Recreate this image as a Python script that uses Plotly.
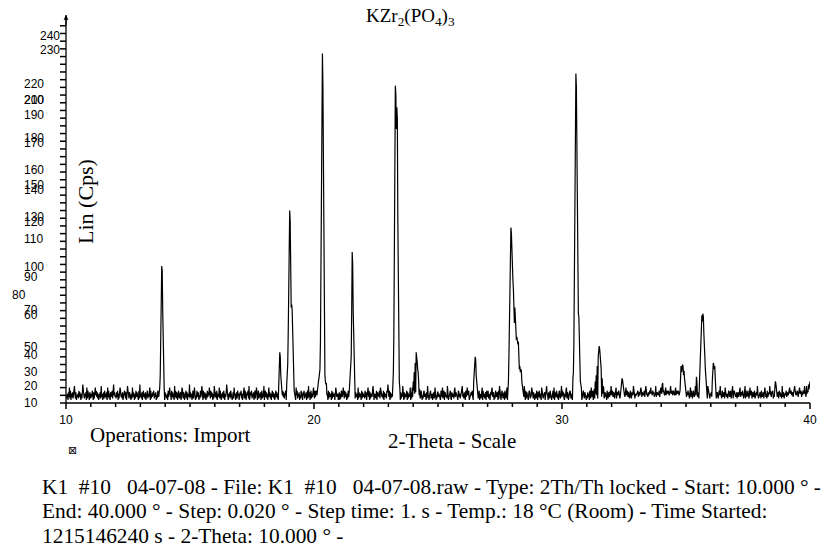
import numpy as np
import plotly.graph_objects as go

# ---------------- data ----------------
TITLE = "KZr<sub>2</sub>(PO<sub>4</sub>)<sub>3</sub>"
X_TITLE = "2-Theta - Scale"
Y_TITLE = "Lin (Cps)"
OPERATIONS = "Operations: Import"
CAPTION_LINES = [
    "K1\u00a0\u00a0#10\u00a0\u00a0\u00a004-07-08 - File: K1\u00a0\u00a0#10\u00a0\u00a0\u00a004-07-08.raw - Type: 2Th/Th locked - Start: 10.000 \u00b0 -",
    "End: 40.000 \u00b0 - Step: 0.020 \u00b0 - Step time: 1. s - Temp.: 18 \u00b0C (Room) - Time Started:",
    "1215146240 s - 2-Theta: 10.000 \u00b0 -",
]

START_2THETA = 10.0
# background counts per degree (10..39), 0.02 deg steps, grouped by 5
# (one hex character per step: a=10, b=11, c=12)
BACKGROUND_ROWS = [
    "45362 74a38 26473 58b63 72546 38475 2637c 85364 72a38 46275",
    "36485 2736a 58473 62547 3b462 57384 6372a 48362 75483 6c574",
    "53748 2637a 84637 25486 3725b 86374 5263a 47526 38475 6283c",
    "46372 58463 72548 3647a 28364 75836 47253 86473 52648 37562",
    "74536 2847a 65284 7362b 48376 25843 6725a 83762 54837 2645c",
    "37462 5837a 62538 47625 3847b 62834 75263 8475a 63847 5263b",
    "64738 2564a 38526 47385 2647c 85264 73856 2473a 56247 38562",
    "47583 6247a 38624 7583b 24758 36472 5836a 72583 64725 8364b",
    "25847 3625a 47362 58473 62584 73625 8473b 25847 36582 47365",
    "57386 24758 3642a 58364 72538 46275 83647 2583b 47258 3647a",
    "63847 2563a 47526 38475 6283b 45628 37456 28374 5628a 74562",
    "47263 8547a 63847 52638 47562 8374b 52837 4652a 37465 28374",
    "56384 7265a 48273 6548b 72564 38275 6483a 75463 82746 5387c",
    "64827 3564a 27364 85273 64582 7364b 82736 45827 3645a 27364",
    "38462 7538a 26573 48625 37846 5273b 64257 83462 5734a 62537",
    "74653 2874a 35827 6453b 72465 83274 5638a 47653 28746 3587b",
    "46375 2846a 57824 36758 4263b 85246 73582 6437a 28463 57284",
    "58364 2758a 46725 38647 5283b 74258 63472 8536a 27583 46752",
    "37452 8637a 25683 47526 3874b 62837 54268 7345a 86374 25638",
    "62748 5362a 84356 7248b 65274 38562 4783a 26748 53627 8436b",
    "48573 2648a 37624 58736 4285b 63248 75362 8457a 26485 37642",
    "53746 2853a 64825 7346b 52374 86253 4768a 35746 28537 6485b",
    "65847 6358a 37658 7436b 48736 8547a 56847 63584 3765b 74356",
    "57684 6758a 84765 6847b 85647 5686a 67586 7465b 46765 6847a",
    "76857 8657a 58768 7568b 67857 8657a 58768 7568c 67857 8656a",
    "64758 6437a 48637 8546b 57846 7358a 36758 64375 4863b 85436",
    "57463 5874a 83574 3685b 64385 4763a 75463 58746 8357b 36875",
    "45736 7458a 46758 6347b 38647 8536a 57836 74583 4675b 63457",
    "63854 6738a 74638 4576b 58476 8354a 36854 67385 7463b 45736",
    "56847 6587a 68857 7468b 87568 7468a 67847 5876b 75486 8759c",
]
LAST_POINT_CPS = 14

# peak profiles (2-theta, counts)
PEAK_2THETA = [
    13.78, 13.80, 13.82, 13.84, 13.86, 13.88, 13.90, 13.92, 13.94, 13.96,
    18.58, 18.60, 18.62, 18.64, 18.66, 18.68, 18.70,
    18.90, 18.92, 18.94, 18.96, 18.98, 19.00, 19.02, 19.04, 19.06, 19.08, 19.10, 19.12, 19.14, 19.16, 19.18, 19.20,
    20.10, 20.14, 20.16, 20.18, 20.20, 20.22, 20.24, 20.26, 20.28, 20.30, 20.32, 20.34, 20.36, 20.38, 20.40, 20.42, 20.44, 20.46, 20.48, 20.50,
    21.44, 21.46, 21.48, 21.50, 21.52, 21.54, 21.56, 21.58, 21.60, 21.62, 21.64,
    23.18, 23.20, 23.22, 23.24, 23.26, 23.28, 23.30, 23.32, 23.34, 23.36, 23.38, 23.40, 23.42, 23.44, 23.46,
    23.96, 24.00, 24.04, 24.08, 24.12, 24.14, 24.16, 24.18, 24.20, 24.22, 24.26,
    26.44, 26.46, 26.48, 26.50, 26.52, 26.54, 26.56, 26.58,
    27.84, 27.86, 27.88, 27.90, 27.92, 27.94, 27.96, 27.98, 28.00, 28.02, 28.04, 28.06, 28.08, 28.10, 28.12,
    28.14, 28.16, 28.18, 28.20, 28.22, 28.24, 28.26, 28.28, 28.30, 28.32, 28.34, 28.36, 28.38, 28.40,
    30.44, 30.46, 30.48, 30.50, 30.52, 30.54, 30.56, 30.58, 30.60, 30.62, 30.64, 30.66, 30.68, 30.70, 30.72, 30.74, 30.76,
    31.30, 31.34, 31.38, 31.42, 31.46, 31.48, 31.50, 31.52, 31.54, 31.56, 31.58, 31.62, 31.66,
    32.40, 32.42, 32.44, 32.46, 32.48,
    34.04, 34.06, 34.78, 34.80, 34.82, 34.84, 34.86, 34.88, 34.90, 34.92, 34.94, 34.96,
    35.42, 35.44, 35.54, 35.56, 35.58, 35.60, 35.62, 35.64, 35.66, 35.68, 35.70, 35.72, 35.74, 35.76, 35.78, 35.80, 35.82,
    36.06, 36.08, 36.10, 36.12, 36.14, 36.16, 36.18, 36.20,
    38.60, 38.62,
    39.86, 39.94, 39.98,
]
PEAK_CPS = [
    10, 18, 40, 75, 89, 86, 60, 30, 14, 9,
    12, 22, 33, 30, 18, 10, 8,
    12, 16, 25, 45, 80, 112, 125, 118, 85, 62, 64, 60, 40, 22, 12, 8,
    8, 10, 12, 14, 16, 18, 22, 40, 80, 150, 200, 227, 205, 140, 70, 32, 18, 14, 12, 13,
    12, 20, 26, 30, 60, 98, 90, 60, 48, 25, 12,
    12, 20, 45, 100, 170, 206, 200, 178, 192, 185, 120, 55, 25, 14, 10,
    10, 14, 20, 26, 33, 31, 27, 22, 20, 14, 9,
    14, 18, 24, 30, 28, 18, 13, 10,
    14, 30, 60, 95, 112, 114, 110, 95, 85, 80, 74, 60, 52, 62, 55,
    45, 41, 43, 40, 38, 40, 30, 22, 24, 20, 22, 21, 14, 10,
    16, 20, 40, 85, 150, 200, 214, 205, 160, 110, 75, 58, 56, 30, 18, 14, 12,
    9, 14, 18, 24, 30, 33, 37, 35, 30, 27, 22, 16, 11,
    12, 16, 15, 11, 13,
    12, 13, 16, 24, 20, 22, 25, 24, 18, 21, 16, 12,
    17, 14, 12, 20, 35, 48, 55, 57, 53, 58, 56, 45, 40, 30, 22, 15, 10,
    14, 20, 26, 25, 22, 24, 16, 10,
    14, 13,
    11, 12, 13,
]

X_RANGE = [10, 40]
X_TICK_VALUES = [10, 20, 30, 40]
X_TICK_TEXT = ["10", "20", "30", "40"]
X_MINOR_VALUES = list(range(10, 41))
Y_TICK_VALUES = list(range(0, 246, 5))

# y-axis labels as printed (scattered, not on the ticks)
Y_LABEL_TEXT = ["240", "230", "220", "210", "200", "190", "180", "170", "160", "150",
                "140", "130", "120", "110", "100", "90", "80", "70", "60", "50",
                "40", "30", "20", "10", "0"]
Y_LABEL_AT = [238.4, 229.3, 207.2, 196.8, 196.8, 187.0, 172.0, 168.9, 151.3, 141.6,
              138.3, 120.8, 117.6, 106.5, 88.3, 81.8, 70.1, 60.4, 57.2, 36.4,
              31.2, 20.1, 11.0, 0.2, -2.0]

# ---------------- build series ----------------
two_theta, cps = [], []
for k, row in enumerate(BACKGROUND_ROWS):
    digits = row.replace(" ", "")
    n = len(digits)
    for j, ch in enumerate(digits):
        two_theta.append(START_2THETA + k + j / n)
        cps.append(float(int(ch, 16)))
two_theta.append(40.0)
cps.append(float(LAST_POINT_CPS))
two_theta = np.array(two_theta)
cps = np.array(cps)
for px, py in zip(PEAK_2THETA, PEAK_CPS):
    i = int(np.argmin(np.abs(two_theta - px)))
    cps[i] = py

# ---------------- layout geometry ----------------
W, H = 831, 554
L, R, T, B = 66, 21, 15, 151
PW, PH = W - L - R, H - T - B
Y_MAX = 252


def paper_x(px):
    return (px - L) / PW


def paper_y(py):
    return (H - B - py) / PH


SERIF = "Liberation Serif, Times New Roman, serif"
SANS = "Liberation Sans, Arial, sans-serif"

fig = go.Figure()
fig.add_trace(go.Scatter(x=two_theta, y=cps, mode="lines",
                         line=dict(color="black", width=1.2), hoverinfo="skip",
                         showlegend=False))

annotations = []
for txt, val in zip(Y_LABEL_TEXT, Y_LABEL_AT):
    left = 22
    if txt in ("240", "230"):
        left = 38
    elif txt == "80":
        left = 10
    elif txt == "0":
        left = 42
    annotations.append(dict(text=txt, xref="paper", yref="y", x=paper_x(left), y=val,
                            xanchor="left", yanchor="middle", showarrow=False,
                            font=dict(family=SANS, size=12, color="black")))

annotations += [
    dict(text=TITLE, xref="paper", yref="paper", x=paper_x(410), y=paper_y(17),
         xanchor="center", yanchor="middle", showarrow=False,
         font=dict(family=SERIF, size=19, color="black")),
    dict(text=Y_TITLE, xref="paper", yref="paper", x=paper_x(86), y=paper_y(202),
         xanchor="center", yanchor="middle", textangle=-90, showarrow=False,
         font=dict(family=SERIF, size=22, color="black")),
    dict(text=OPERATIONS, xref="paper", yref="paper", x=paper_x(88), y=paper_y(435),
         xanchor="left", yanchor="middle", showarrow=False,
         font=dict(family=SERIF, size=21, color="black")),
    dict(text=X_TITLE, xref="paper", yref="paper", x=paper_x(452), y=paper_y(441),
         xanchor="center", yanchor="middle", showarrow=False,
         font=dict(family=SERIF, size=21, color="black")),
    dict(text="\u22a0", xref="paper", yref="paper", x=paper_x(72), y=paper_y(450),
         xanchor="center", yanchor="middle", showarrow=False,
         font=dict(family="DejaVu Sans", size=11, color="black")),
    dict(text="", xref="paper", yref="paper", x=0, y=1, ax=0, ay=12,
         showarrow=True, arrowhead=2, arrowsize=0.8, arrowwidth=1.2, arrowcolor="black"),
]
for k, line in enumerate(CAPTION_LINES):
    annotations.append(dict(text=line, xref="paper", yref="paper", x=paper_x(40),
                            y=paper_y(487 + 24.5 * k), xanchor="left", yanchor="middle",
                            showarrow=False,
                            font=dict(family=SERIF, size=21.4, color="black")))

# axis lines and tick marks (paper fractions of the axis ranges)
AX_LINE = dict(color="black", width=1.3)
TICK_LINE = dict(color="black", width=1.5)
shapes = [
    dict(type="line", xref="paper", yref="paper", x0=0, x1=0, y0=0, y1=1,
         line=AX_LINE, layer="above"),
    dict(type="line", xref="paper", yref="paper", x0=0, x1=1, y0=0, y1=0,
         line=AX_LINE, layer="above"),
]
for v in Y_TICK_VALUES:
    f = v / Y_MAX
    shapes.append(dict(type="line", xref="paper", yref="paper",
                       x0=-6 / PW, x1=0, y0=f, y1=f, line=TICK_LINE, layer="above"))
for v in X_MINOR_VALUES:
    ln = 6 if v in X_TICK_VALUES else 4
    f = (v - X_RANGE[0]) / (X_RANGE[1] - X_RANGE[0])
    shapes.append(dict(type="line", xref="paper", yref="paper",
                       x0=f, x1=f, y0=0, y1=-ln / PH, line=TICK_LINE, layer="above"))

fig.update_layout(
    template="none",
    width=W, height=H,
    margin=dict(l=L, r=R, t=T, b=B, autoexpand=False),
    paper_bgcolor="white", plot_bgcolor="white",
    annotations=annotations,
    shapes=shapes,
    xaxis=dict(range=X_RANGE, showgrid=False, zeroline=False, showline=False,
               ticks="", tickmode="array", tickvals=X_TICK_VALUES, ticktext=X_TICK_TEXT,
               showticklabels=True, ticklabelstandoff=8,
               tickfont=dict(family=SANS, size=12, color="black")),
    yaxis=dict(range=[0, Y_MAX], showgrid=False, zeroline=False, showline=False,
               ticks="", showticklabels=False),
)

fig.write_html("out.html")
